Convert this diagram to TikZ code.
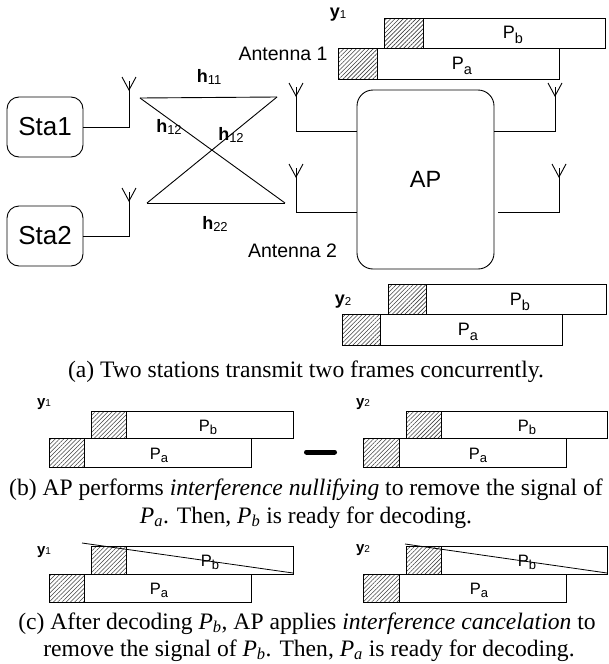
\documentclass[tikz,border=0pt]{standalone}
\usepackage{fontspec}
\setmainfont{Liberation Serif}
\setsansfont{Liberation Sans}
\usetikzlibrary{patterns.meta}
\newcommand{\lowsub}[3]{\raisebox{-#2pt}{\fontsize{#1}{#1}\selectfont #3}}
\newcommand{\ip}[1]{\textit{P}\textsubscript{\textit{#1}}}
\newcommand{\bigP}[1]{P\lowsub{14.5}{4.5}{#1}}
\newcommand{\smallP}[1]{P\lowsub{13}{3}{#1}}
\newcommand{\hlab}[1]{\textbf{h}\lowsub{13}{2}{#1}}
\newcommand{\ybigl}[1]{\textbf{y}\lowsub{11.5}{0.5}{#1}}
\newcommand{\ysmalll}[1]{\textbf{y}\lowsub{10}{0.5}{#1}}
\tikzset{
  ln/.style={line width=0.9pt},
  stabox/.style={draw, line width=0.9pt, rounded corners=12pt, minimum width=76pt, minimum height=60pt, inner sep=0pt, font=\sffamily\fontsize{26}{30}\selectfont},
  apbox/.style={draw, line width=0.9pt, rounded corners=16pt, minimum width=137pt, minimum height=179pt, inner sep=0pt, font=\sffamily\fontsize{23.5}{27}\selectfont},
  hatchbox/.style={draw, line width=0.9pt, pattern={Lines[angle=45,distance=3pt,line width=0.6pt]}, pattern color=black!75},
  pkt/.style={draw, line width=0.9pt, fill=white},
  chan/.style={inner sep=0pt, font=\sffamily\fontsize{18}{20}\selectfont},
  antlbl/.style={inner sep=0pt, font=\sffamily\fontsize{19.5}{22}\selectfont},
  ybig/.style={inner sep=0pt, font=\sffamily\fontsize{18}{20}\selectfont},
  ysmall/.style={inner sep=0pt, font=\sffamily\fontsize{15}{18}\selectfont},
  pbig/.style={inner sep=0pt, font=\sffamily\fontsize{18}{20}\selectfont},
  psmall/.style={inner sep=0pt, font=\sffamily\fontsize{16.5}{18}\selectfont},
  captext/.style={inner sep=0pt, anchor=base, font=\rmfamily\fontsize{23.6}{27.5}\selectfont},
  strikeline/.style={line width=0.8pt},
  minusbar/.style={line width=5pt, line cap=round},
  antenna/.pic={
    \draw[ln] (-7,-13) -- (0,0) -- (7,-13);
    \draw[ln] (0,-9) -- (0,0);
  }
}
\begin{document}
\begin{tikzpicture}[x=1pt,y=-1pt]
\useasboundingbox (0,0) rectangle (608,664);

% ---------- (a) ----------
\node[stabox] (sta1) at (45,127) {Sta1};
\node[stabox] (sta2) at (45,236) {Sta2};
\node[apbox] (ap) at (425.5,179.5) {AP};

% station antennas
\coordinate (s1a) at (129,90);
\coordinate (s2a) at (129,201);
\pic at (s1a) {antenna};
\pic at (s2a) {antenna};
\draw[ln] (sta1.east) -| (s1a);
\draw[ln] (sta2.east) -| (s2a);

% AP antennas
\coordinate (l1a) at (296,96);
\coordinate (l2a) at (296,177);
\coordinate (r1a) at (555,96);
\coordinate (r2a) at (559,177);
\coordinate (apl1) at (357,131);
\coordinate (apl2) at (357,212);
\coordinate (apr1) at (494,131);
\coordinate (apr2) at (498,212);
\pic at (l1a) {antenna};
\pic at (l2a) {antenna};
\pic at (r1a) {antenna};
\pic at (r2a) {antenna};
\draw[ln] (l1a) |- (apl1);
\draw[ln] (l2a) |- (apl2);
\draw[ln] (r1a) |- (apr1);
\draw[ln] (r2a) |- (apr2);

% channels
\coordinate (c1) at (140,98);
\coordinate (c2) at (277,97);
\coordinate (c3) at (147,203);
\coordinate (c4) at (285,203);
\draw[ln] (c1) -- (c2);
\draw[ln] (c1) -- (c4);
\draw[ln] (c3) -- (c4);
\draw[ln] (c3) -- (c2);
\node[chan] (h11) at (209,77) {\hlab{11}};
\node[chan] (h12a) at (169,127) {\hlab{12}};
\node[chan] (h12b) at (231,135) {\hlab{12}};
\node[chan] (h22) at (215,224) {\hlab{22}};
\node[antlbl] (ant1) at (283,54) {Antenna 1};
\node[antlbl] (ant2) at (292.5,251) {Antenna 2};

% y1 frames (top)
\node[ybig] (ty1) at (338,15) {\ybigl{1}};
\draw[hatchbox] (384,18) rectangle (423,48);
\draw[pkt] (423,18) rectangle (605,48);
\node[pbig] (tpb) at (513,35) {\bigP{b}};
\draw[hatchbox] (338,48) rectangle (377,79);
\draw[pkt] (377,48) rectangle (559,79);
\node[pbig] (tpa) at (462,66) {\bigP{a}};

% y2 frames
\node[ybig] (ty2) at (343,302) {\ybigl{2}};
\draw[hatchbox] (388,284) rectangle (426,314);
\draw[pkt] (426,284) rectangle (606,314);
\node[pbig] (mpb) at (520,302) {\bigP{b}};
\draw[hatchbox] (342,314) rectangle (380,345);
\draw[pkt] (380,314) rectangle (562,345);
\node[pbig] (mpa) at (468,332) {\bigP{a}};

\node[captext] (capa) at (306,377) {(a) Two stations transmit two frames concurrently.};

% ---------- (b) ----------
\node[ysmall] (by1) at (44,404) {\ysmalll{1}};
\draw[hatchbox] (91,411) rectangle (126,438);
\draw[pkt] (126,411) rectangle (293,438);
\node[psmall] (bpb1) at (208,427) {\smallP{b}};
\draw[hatchbox] (49,438) rectangle (84,467);
\draw[pkt] (84,438) rectangle (251,467);
\node[psmall] (bpa1) at (159,455) {\smallP{a}};

\coordinate (m1) at (306.5,452);
\coordinate (m2) at (334.5,452);
\draw[minusbar] (m1) -- (m2);

\node[ysmall] (by2) at (363,404) {\ysmalll{2}};
\draw[hatchbox] (406,411) rectangle (441,438);
\draw[pkt] (441,411) rectangle (607,438);
\node[psmall] (bpb2) at (527,427) {\smallP{b}};
\draw[hatchbox] (363,438) rectangle (399,467);
\draw[pkt] (399,438) rectangle (566,467);
\node[psmall] (bpa2) at (478,455) {\smallP{a}};

\node[captext] (capb1) at (306,495) {(b) AP performs \textit{interference nullifying} to remove the signal of};
\node[captext] (capb2) at (306,523) {\ip{a}. Then, \ip{b} is ready for decoding.};

% ---------- (c) ----------
\node[ysmall] (cy1) at (44,552) {\ysmalll{1}};
\draw[hatchbox] (91,546) rectangle (126,574);
\draw[pkt] (126,546) rectangle (293,574);
\node[psmall] (cpb1) at (210,562) {\smallP{b}};
\draw[hatchbox] (49,574) rectangle (84,602);
\draw[pkt] (84,574) rectangle (251,602);
\node[psmall] (cpa1) at (159,590) {\smallP{a}};
\coordinate (s1s) at (82,543);
\coordinate (s1e) at (293,573);
\draw[strikeline] (s1s) -- (s1e);

\node[ysmall] (cy2) at (363,550) {\ysmalll{2}};
\draw[hatchbox] (406,546) rectangle (441,574);
\draw[pkt] (441,546) rectangle (607,574);
\node[psmall] (cpb2) at (527,562) {\smallP{b}};
\draw[hatchbox] (363,574) rectangle (399,602);
\draw[pkt] (399,574) rectangle (566,602);
\node[psmall] (cpa2) at (479,590) {\smallP{a}};
\coordinate (s2s) at (405,544);
\coordinate (s2e) at (607,573);
\draw[strikeline] (s2s) -- (s2e);

\node[captext] (capc1) at (307,629) {(c) After decoding \ip{b}, AP applies \textit{interference cancelation} to};
\node[captext] (capc2) at (309,656) {remove the signal of \ip{b}. Then, \ip{a} is ready for decoding.};
\end{tikzpicture}
\end{document}
